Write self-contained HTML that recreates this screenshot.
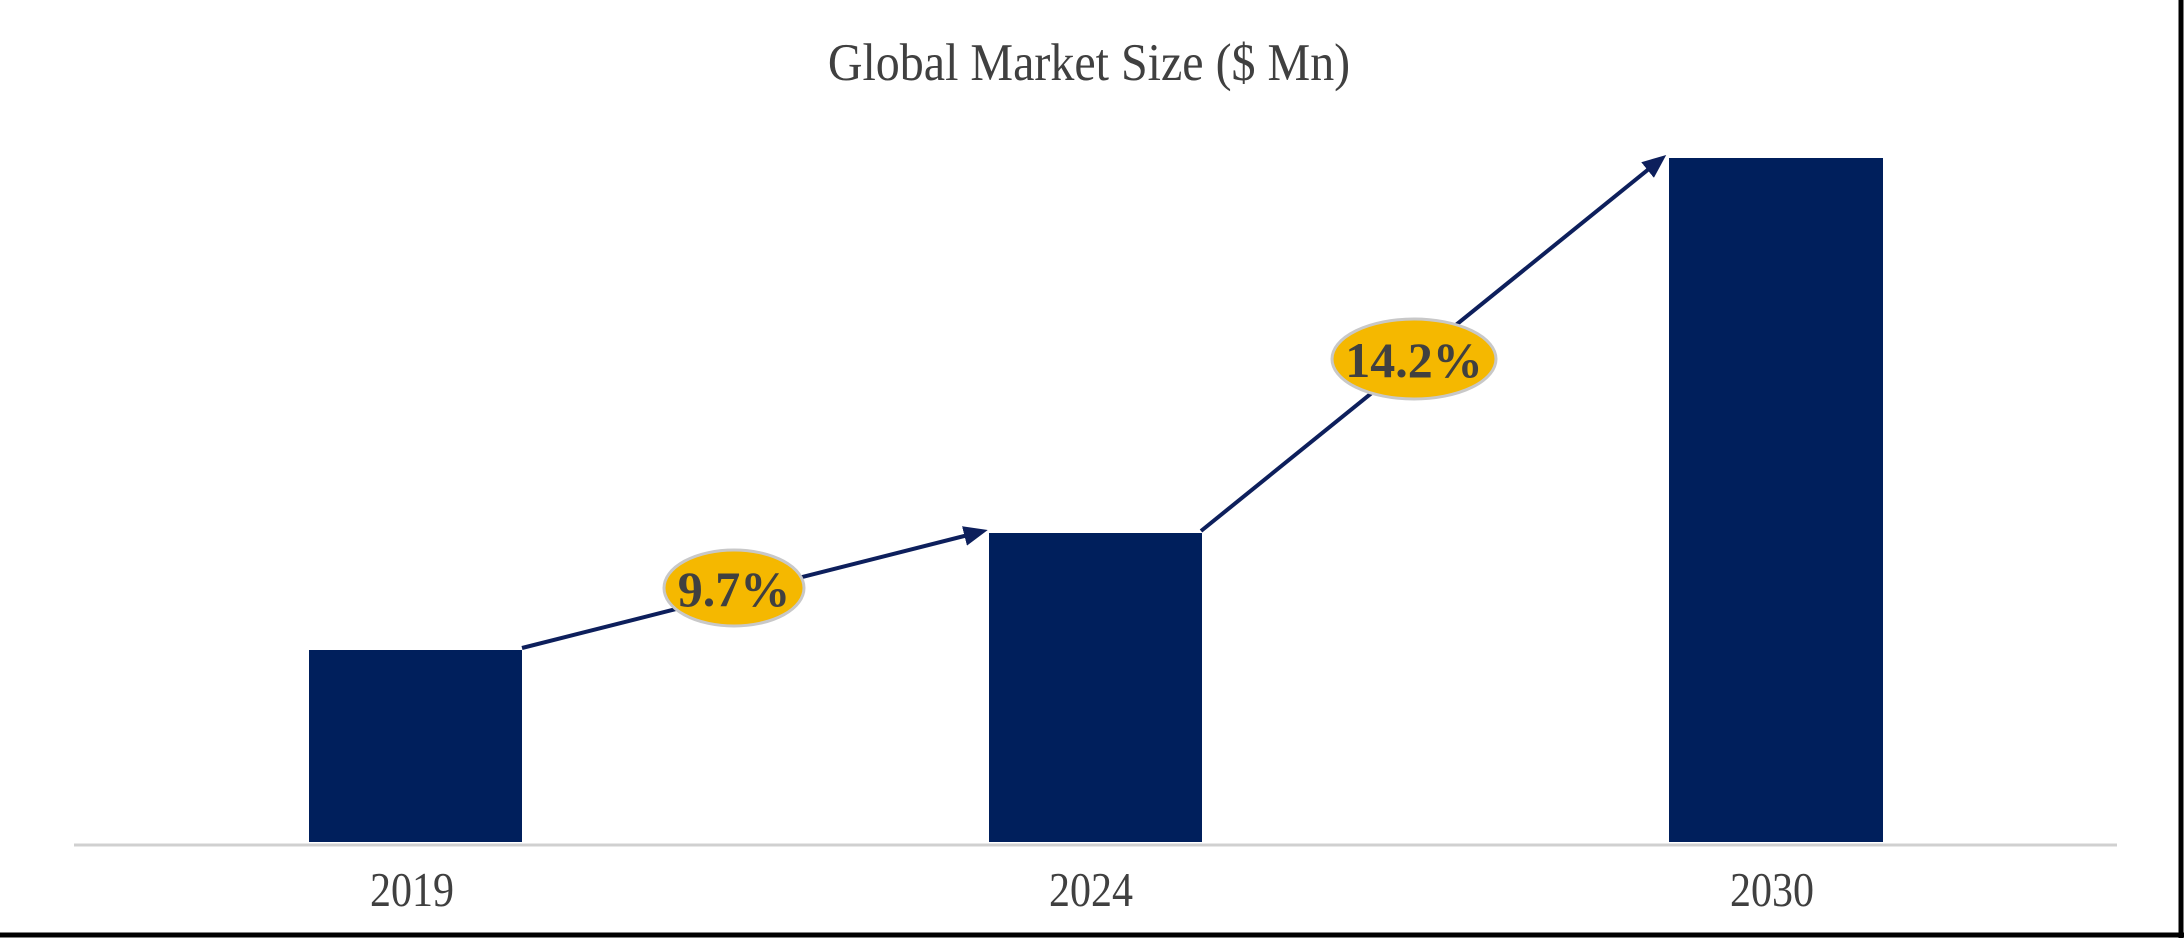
<!DOCTYPE html>
<html><head><style>
html,body{margin:0;padding:0;background:#fff;}
svg{display:block;}
</style></head><body>
<svg width="2184" height="938" xmlns="http://www.w3.org/2000/svg">
<rect x="0" y="0" width="2184" height="938" fill="#fff"/>
<line x1="2181" y1="0" x2="2181" y2="938" stroke="#000" stroke-width="5"/>
<line x1="0" y1="935" x2="2184" y2="935" stroke="#000" stroke-width="5"/>
<text x="1089" y="0" text-anchor="middle" font-family="Liberation Serif, serif" font-size="48" fill="#404040" transform="translate(0,80) scale(1,1.1)">Global Market Size ($ Mn)</text>
<rect x="309" y="650" width="213" height="192" fill="#001f5c"/>
<rect x="989" y="533" width="213" height="309" fill="#001f5c"/>
<rect x="1669" y="158" width="214" height="684" fill="#001f5c"/>
<line x1="74" y1="845" x2="2117" y2="845" stroke="#d0d0d0" stroke-width="3"/>
<g font-family="Liberation Serif, serif" font-size="42" fill="#404040" text-anchor="middle">
<text x="412" y="0" transform="translate(0,906) scale(1,1.15)">2019</text>
<text x="1091" y="0" transform="translate(0,906) scale(1,1.15)">2024</text>
<text x="1772" y="0" transform="translate(0,906) scale(1,1.15)">2030</text>
</g>
<defs><marker id="a" markerWidth="6" markerHeight="6" refX="4" refY="3" orient="auto" markerUnits="strokeWidth"><path d="M0,0.5 L6,3 L0,5.5 z" fill="#0d1f5c"/></marker></defs>
<line x1="522" y1="648" x2="980" y2="532" stroke="#0d1f5c" stroke-width="4" marker-end="url(#a)"/>
<line x1="1201" y1="531" x2="1660" y2="160" stroke="#0d1f5c" stroke-width="4" marker-end="url(#a)"/>
<ellipse cx="734" cy="588" rx="70" ry="38" fill="#f5b800" stroke="#c8c8c8" stroke-width="3"/>
<ellipse cx="1414" cy="359" rx="82" ry="40" fill="#f5b800" stroke="#c8c8c8" stroke-width="3"/>
<g font-family="Liberation Serif, serif" font-size="50" font-weight="bold" fill="#404040" text-anchor="middle">
<text x="734" y="606">9.7%</text>
<text x="1414" y="377">14.2%</text>
</g>
</svg>
</body></html>
